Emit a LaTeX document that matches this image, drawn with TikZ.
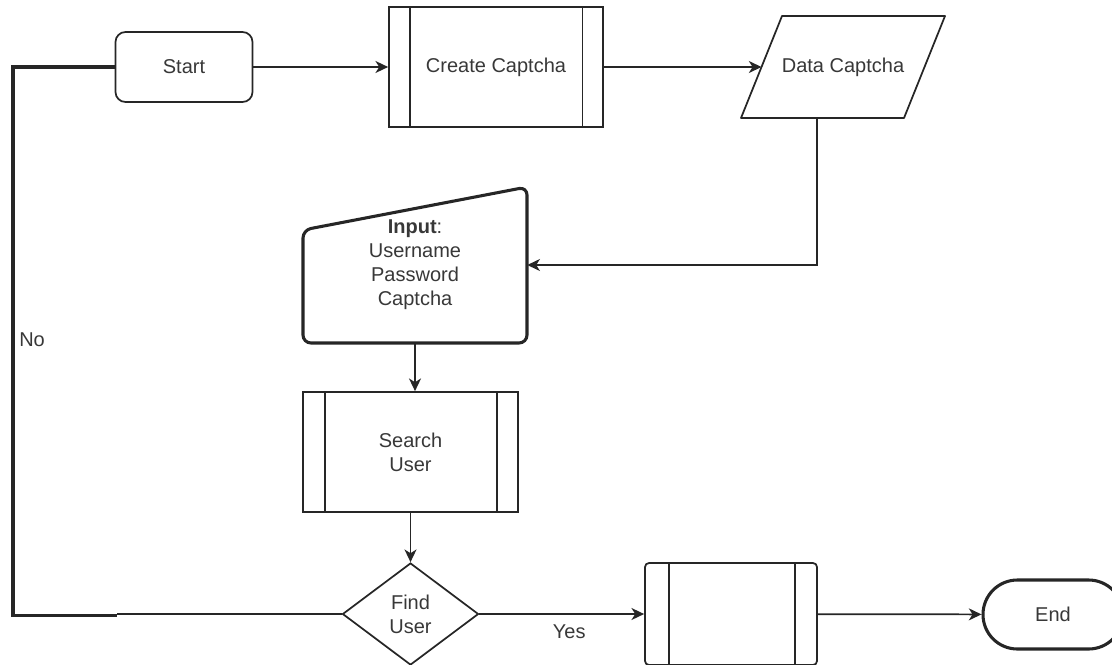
\documentclass[tikz,border=0pt]{standalone}
\usepackage{fontspec}
\setmainfont{Liberation Sans}
\usetikzlibrary{arrows.meta,shapes.geometric}

\definecolor{ink}{HTML}{262626}
\definecolor{txt}{HTML}{383838}

\tikzset{
  base/.style={draw=ink, line width=1.3pt, text=txt, inner sep=0pt, align=center,
               font=\fontsize{15}{18}\selectfont},
  termbox/.style={base, rectangle, rounded corners=7.5pt},
  procbox/.style={base, rectangle},
  decbox/.style={base, diamond, aspect=1.33},
  endbox/.style={base, rectangle, line width=2.3pt, rounded corners=25.8pt},
  lbl/.style={text=txt, inner sep=0pt, font=\fontsize{15}{18}\selectfont},
  flow/.style={draw=ink, line width=1.3pt},
  arr/.style={flow, -{Stealth[length=9.5pt, width=9pt, inset=2.8pt]}},
  loopline/.style={draw=ink, line width=2.4pt},
  barline/.style={draw=ink, line width=1.3pt}
}

% vertical side bars of a predefined-process box
\newcommand\procbars[3]{%
  \draw[barline] ([xshift=#2]#1.north west) -- ([xshift=#2]#1.south west);
  \draw[barline] ([xshift=-#3]#1.north east) -- ([xshift=-#3]#1.south east);
}

\begin{document}
\begin{tikzpicture}[x=0.75pt, y=-0.75pt]
\useasboundingbox (0,0) rectangle (1112,664);
\clip (0,0) rectangle (1112,664);

% top row
\node[termbox, minimum width=102.75pt, minimum height=52.5pt] (start) at (184,67) {Start};
\node[procbox, minimum width=160.5pt, minimum height=90pt] (create) at (496,67) {Create Captcha};
\procbars{create}{16.5pt}{16pt}

% data (parallelogram)
\draw[draw=ink, line width=1.3pt, line join=round]
  (782,16) -- (945,16) -- (904,118) -- (741,118) -- cycle;
\node[lbl, minimum width=153pt, minimum height=76.5pt] (data) at (843,67) {Data Captcha};
\coordinate (datain) at (761.5,67);

% manual input block
\draw[draw=ink, line width=2.3pt, rounded corners=6pt]
  (303,230) -- (527,187) -- (527,343) -- (303,343) -- cycle;
\node[lbl, align=center, minimum width=168pt, minimum height=117pt] (input) at (415,265)
  {\textbf{Input}:\\Username\\Password\\Captcha};

% middle column
\node[procbox, minimum width=161.25pt, minimum height=90pt] (search) at (410.5,452) {Search\\User};
\procbars{search}{17pt}{16.5pt}
\node[decbox, minimum width=102pt, minimum height=76.5pt] (find) at (410.5,614) {Find\\User};

% bottom row
\node[procbox, rounded corners=3pt, minimum width=129pt, minimum height=76.5pt] (proc) at (731,614) {};
\procbars{proc}{18.4pt}{17.3pt}
\node[endbox, minimum width=105pt, minimum height=51.75pt] (end) at (1053,614.5) {End};

% connectors
\draw[arr] (start) -- (create);
\draw[arr] (create) -- (datain);
\draw[arr] ([xshift=-19.5pt]data.south) |- (input.east);
\draw[arr] (input.south) -- (input.south |- search.north);
\draw[arr] (search) -- (find);
\draw[arr] (find) -- node[lbl, pos=0.545, yshift=-13.5pt] {Yes} (proc);
\draw[arr] (proc) -- (end);

% "No" return line
\coordinate (nojoin) at (117,615.5);
\draw[loopline] (start.west) -| (13,615.5) -- (nojoin);
\draw[flow] (find.west) -- (find.west -| nojoin);
\node[lbl, anchor=west] (no) at (19,340) {No};
\end{tikzpicture}
\end{document}
